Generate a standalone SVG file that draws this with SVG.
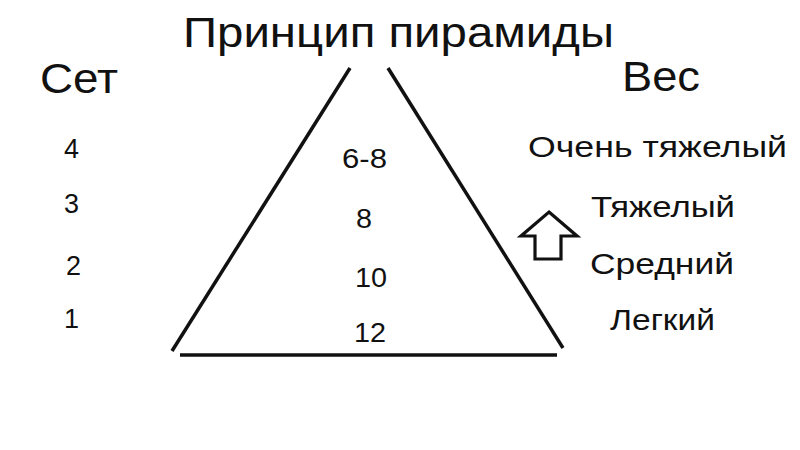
<svg xmlns="http://www.w3.org/2000/svg" width="800" height="450" viewBox="0 0 800 450">
<style>
text{font-family:"Liberation Sans",Arial,sans-serif;fill:#111}
.big{font-size:43px}
.num{font-size:27px}
.mid{font-size:28px}
.w{font-size:30px}
.ln{stroke:#111;stroke-width:3.5;fill:none;stroke-linecap:butt}
</style>
<rect width="800" height="450" fill="#ffffff"/>
<g id="title"><text class="big" x="183" y="47" textLength="431" lengthAdjust="spacingAndGlyphs">Принцип пирамиды</text></g>
<g id="set-header"><text class="big" x="40" y="93" textLength="78" lengthAdjust="spacingAndGlyphs">Сет</text></g>
<g id="weight-header"><text class="big" x="622" y="91" textLength="78" lengthAdjust="spacingAndGlyphs">Вес</text></g>
<g id="pyramid">
<line class="ln" x1="350" y1="68" x2="172" y2="351"/>
<line class="ln" x1="388" y1="68" x2="563" y2="348"/>
<line class="ln" x1="180" y1="355" x2="557" y2="355" stroke-width="4"/>
</g>
<g id="sets">
<text class="num" x="64" y="158">4</text>
<text class="num" x="64" y="213">3</text>
<text class="num" x="66" y="275">2</text>
<text class="num" x="64" y="328">1</text>
</g>
<g id="reps">
<text class="mid" x="342" y="168" textLength="45" lengthAdjust="spacingAndGlyphs">6-8</text>
<text class="mid" x="356" y="228" textLength="16" lengthAdjust="spacingAndGlyphs">8</text>
<text class="mid" x="355" y="287" textLength="32" lengthAdjust="spacingAndGlyphs">10</text>
<text class="mid" x="354" y="342" textLength="32" lengthAdjust="spacingAndGlyphs">12</text>
</g>
<g id="weights">
<text class="w" x="528" y="157" textLength="259" lengthAdjust="spacingAndGlyphs">Очень тяжелый</text>
<text class="w" x="591" y="217" textLength="144" lengthAdjust="spacingAndGlyphs">Тяжелый</text>
<text class="w" x="590" y="274" textLength="144" lengthAdjust="spacingAndGlyphs">Средний</text>
<text class="w" x="610" y="330" textLength="105" lengthAdjust="spacingAndGlyphs">Легкий</text>
</g>
<g id="arrow">
<polygon points="549,212 577,236 561,236 561,259 535,259 535,236 521,236" fill="#fff" stroke="#111" stroke-width="3.2" stroke-linejoin="miter"/>
</g>
</svg>
